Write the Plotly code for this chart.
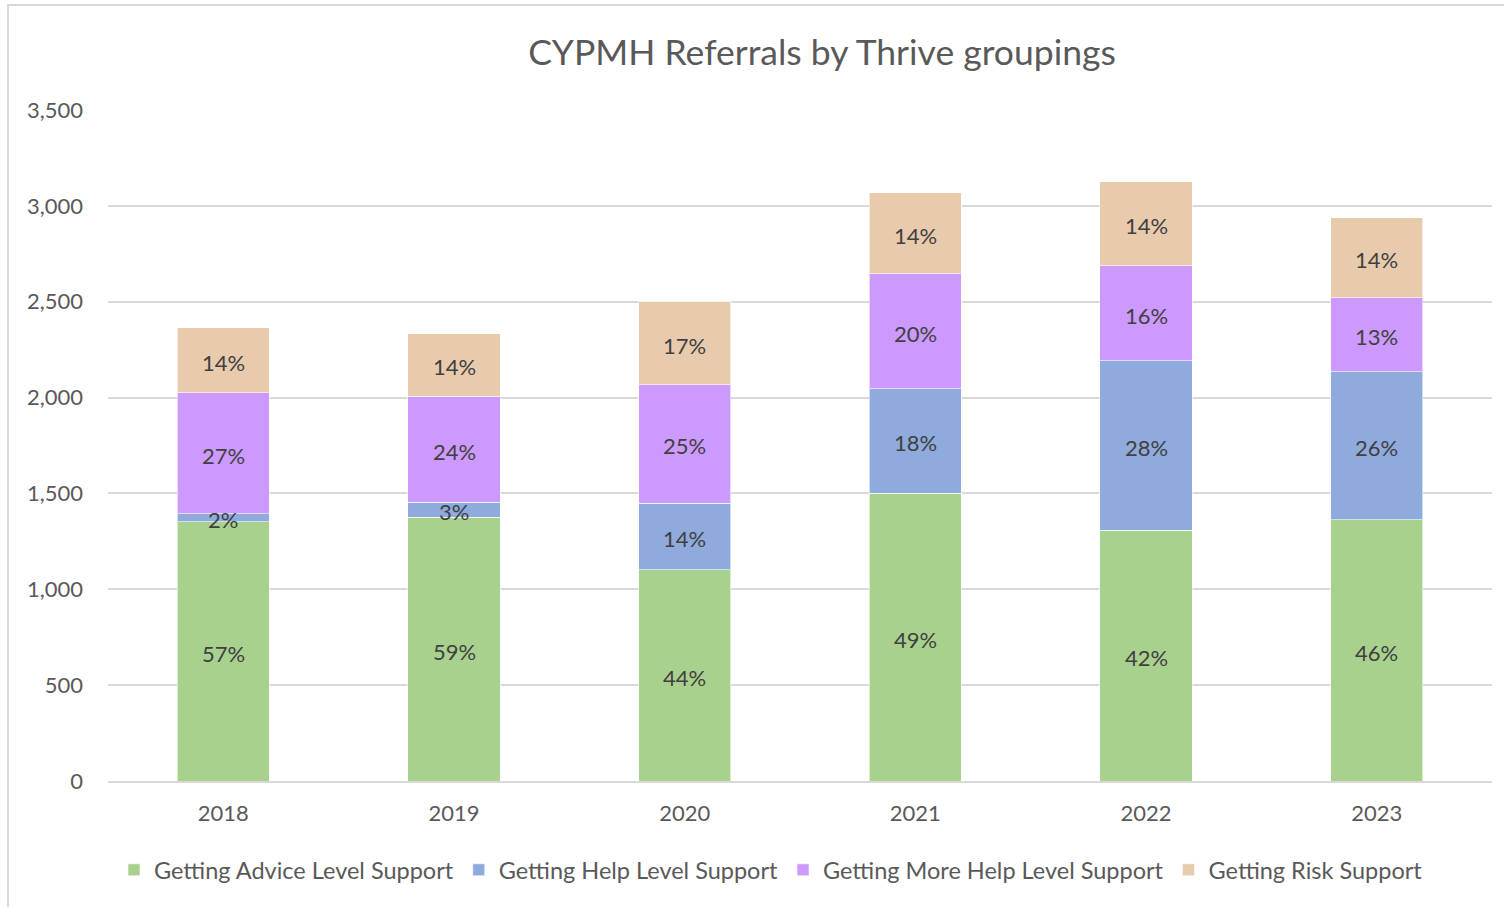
import plotly.graph_objects as go

# Referral counts per year, split by Thrive grouping
years = ["2018", "2019", "2020", "2021", "2022", "2023"]
advice = [1351, 1377, 1101, 1502, 1309, 1362]
help_level = [42, 78, 349, 545, 882, 772]
more_help = [631, 553, 616, 600, 496, 386]
risk = [339, 324, 433, 422, 438, 417]

series_names = [
    "Getting Advice Level Support",
    "Getting Help Level Support",
    "Getting More Help Level Support",
    "Getting Risk Support",
]
series_values = [advice, help_level, more_help, risk]
series_colors = ["#a9d18e", "#8faadc", "#cc99ff", "#e8cbad"]

totals = [sum(v) for v in zip(*series_values)]

FONT = "Lato"
W, H = 1504, 907
ML, MR, MT, MB = 108, 12, 110, 126

fig = go.Figure()
for name, vals, color in zip(series_names, series_values, series_colors):
    fig.add_trace(go.Bar(
        x=years, y=vals, name=name,
        marker=dict(color=color, line=dict(color="rgba(255,255,255,0.6)", width=1)),
        hoverinfo="x+y+name",
    ))

# Percentage labels at the middle of each stacked segment, drawn above all bars
base = [0] * len(years)
for vals in series_values:
    for i, (v, t) in enumerate(zip(vals, totals)):
        fig.add_annotation(
            x=i, y=base[i] + v / 2, text=f"{v / t * 100:.0f}%",
            showarrow=False, yshift=-2,
            font=dict(family=FONT, size=22, color="#404040"),
        )
        base[i] += v

pw = W - ML - MR
ph = H - MT - MB
fig.add_shape(
    type="rect", xref="paper", yref="paper", layer="below",
    x0=(8 - ML) / pw, x1=(1510 - ML) / pw,
    y0=(H - MB - 915) / ph, y1=(H - MB - 5) / ph,
    line=dict(color="#d9d9d9", width=2), fillcolor="rgba(0,0,0,0)",
)

fig.update_layout(
    width=W, height=H,
    margin=dict(l=ML, r=MR, t=MT, b=MB),
    paper_bgcolor="white", plot_bgcolor="white",
    barmode="stack", bargap=0.6,
    title=dict(
        text="CYPMH Referrals by Thrive groupings",
        x=822 / W, xanchor="center", y=1 - 53 / H, yanchor="middle",
        font=dict(family=FONT, size=35.5, color="#595959"),
    ),
    font=dict(family=FONT, color="#595959"),
    legend=dict(
        orientation="h", x=(771 - ML) / pw, xanchor="center",
        y=(H - MB - 870) / ph, yanchor="middle",
        font=dict(family=FONT, size=23.5, color="#595959"),
        itemwidth=30, traceorder="normal",
    ),
    showlegend=True,
)
fig.update_xaxes(
    type="category",
    showgrid=False, showline=True, linecolor="#d9d9d9", linewidth=2,
    ticks="", tickfont=dict(family=FONT, size=22, color="#595959"),
    ticklabelstandoff=12,
)
fig.update_yaxes(
    range=[0, 3500], dtick=500, tickformat=",",
    showgrid=True, gridcolor="#d9d9d9", gridwidth=2,
    zeroline=False, showline=False, ticks="",
    tickfont=dict(family=FONT, size=22, color="#595959"),
    ticklabelstandoff=24,
)

fig.write_html("out.html")
